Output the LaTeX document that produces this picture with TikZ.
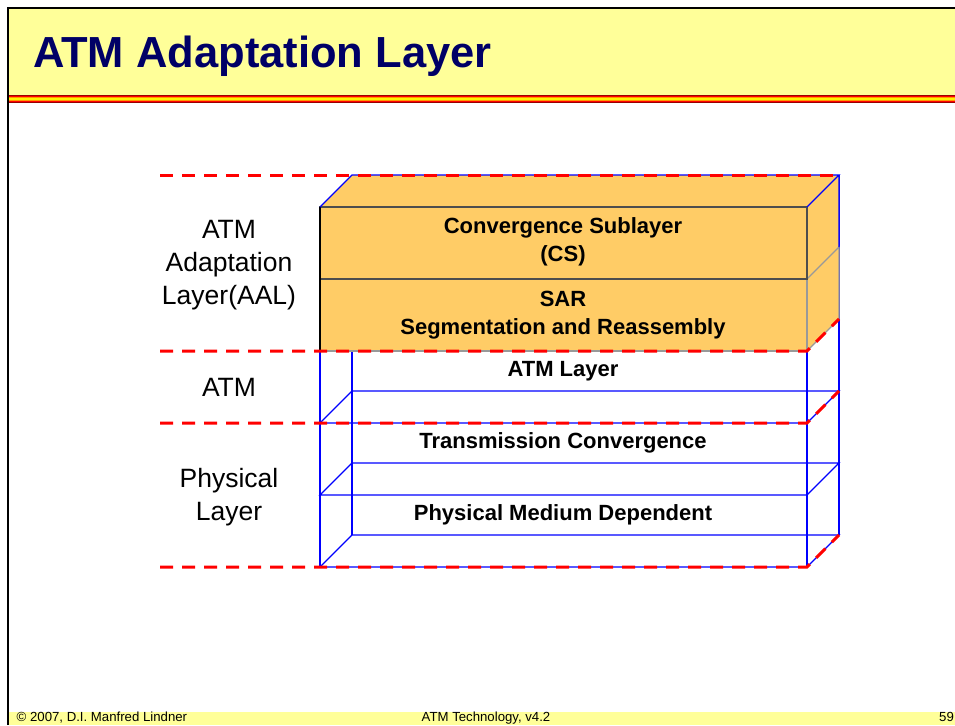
\documentclass[tikz,border=0pt]{standalone}
\usepackage{fontspec}
\setmainfont{Liberation Sans}
\definecolor{slideyellow}{HTML}{FFFF99}
\definecolor{titlenavy}{HTML}{000066}
\definecolor{aalorange}{HTML}{FFCC66}
\definecolor{edgegray}{HTML}{999999}
\definecolor{edgedark}{HTML}{4D4D4D}
\definecolor{cutred}{HTML}{FF0000}
\definecolor{wireblue}{HTML}{0000FF}
\definecolor{rulered}{HTML}{990000}
\definecolor{ruleorange}{HTML}{FF9900}
\tikzset{
  wire/.style  = {draw=wireblue, line width=1.3pt},
  cut/.style   = {draw=cutred, line width=3pt, dash pattern=on 13pt off 9pt},
  slab/.style  = {fill=aalorange, draw=#1, line width=1.2pt},
  lyr/.style   = {font=\fontsize{22}{27.5}\selectfont\bfseries, align=center},
  side/.style  = {font=\fontsize{26.5}{33}\selectfont, align=center},
  foot/.style  = {font=\fontsize{13.2}{15}\selectfont, anchor=base west, inner sep=0pt},
}

\begin{document}
\begin{tikzpicture}[x=1pt, y=-1pt]
  \useasboundingbox (0,0) rectangle (955,725);
  % slide frame
  \fill[slideyellow] (9,9) rectangle (955,95);
  \fill[rulered] (9,95) rectangle (955,103);
  \fill[red] (9,96) rectangle (955,102);
  \fill[ruleorange] (9,97.3) rectangle (955,100.7);
  \fill[yellow] (9,98.3) rectangle (955,99.7);
  \fill[slideyellow] (9,711.5) rectangle (955,725);
  \draw[line width=2pt] (8,725) -- (8,8) -- (955,8);
  \node[anchor=base west, inner sep=0pt, text=titlenavy, font=\fontsize{43.5}{50}\selectfont\bfseries] (title) at (33,67) {ATM Adaptation Layer};
  % lower wire box
  \foreach \y in {423,495,567} {
    \draw[wire] (320,\y) -- (807,\y) -- (839,\y-32) -- (352,\y-32) -- cycle;
  }
  \draw[wire] (320,351) -- (320,567) (807,351) -- (807,567) (352,319) -- (352,535) (839,175) -- (839,535);
  % AAL slabs
  \fill[aalorange] (320,207) -- (352,175) -- (839,175) -- (839,319) -- (807,351) -- (320,351) -- cycle;
  \draw[slab=edgegray] (807,279) -- (839,247) -- (839,319) -- (807,351);
  \draw[slab=edgegray] (320,279) rectangle (807,351);
  \draw[slab=edgedark] (320,207) rectangle (807,279);
  \draw[line width=1.2pt] (320,207) -- (320,351);
  \draw[wire] (320,207) -- (352,175) -- (839,175) -- (807,207) (839,175) -- (839,247);
  % layer cuts
  \draw[cut] (160,175) -- (839,175);
  \draw[cut] (160,351) -- (807,351) -- (839,319);
  \draw[cut] (160,423) -- (807,423) -- (839,391);
  \draw[cut] (160,567) -- (807,567) -- (839,535);
  % labels
  \node[side] (aal) at (229,265) {ATM\\Adaptation\\Layer(AAL)};
  \node[side] (atm) at (229,387) {ATM};
  \node[side] (phy) at (229,497) {Physical\\Layer};
  \node[lyr] (cs) at (563,242) {Convergence Sublayer\\(CS)};
  \node[lyr] (sar) at (563,315) {SAR\\Segmentation and Reassembly};
  \node[lyr] (atml) at (563,371) {ATM Layer};
  \node[lyr] (tc) at (563,443) {Transmission Convergence};
  \node[lyr] (pmd) at (563,515) {Physical Medium Dependent};
  % footer
  \node[foot] (copy) at (16.5,721) {\textcopyright{} 2007, D.I. Manfred Lindner};
  \node[foot] (ver) at (421.5,721) {ATM Technology, v4.2};
  \node[foot] (page) at (939,721) {59};
\end{tikzpicture}
\end{document}
